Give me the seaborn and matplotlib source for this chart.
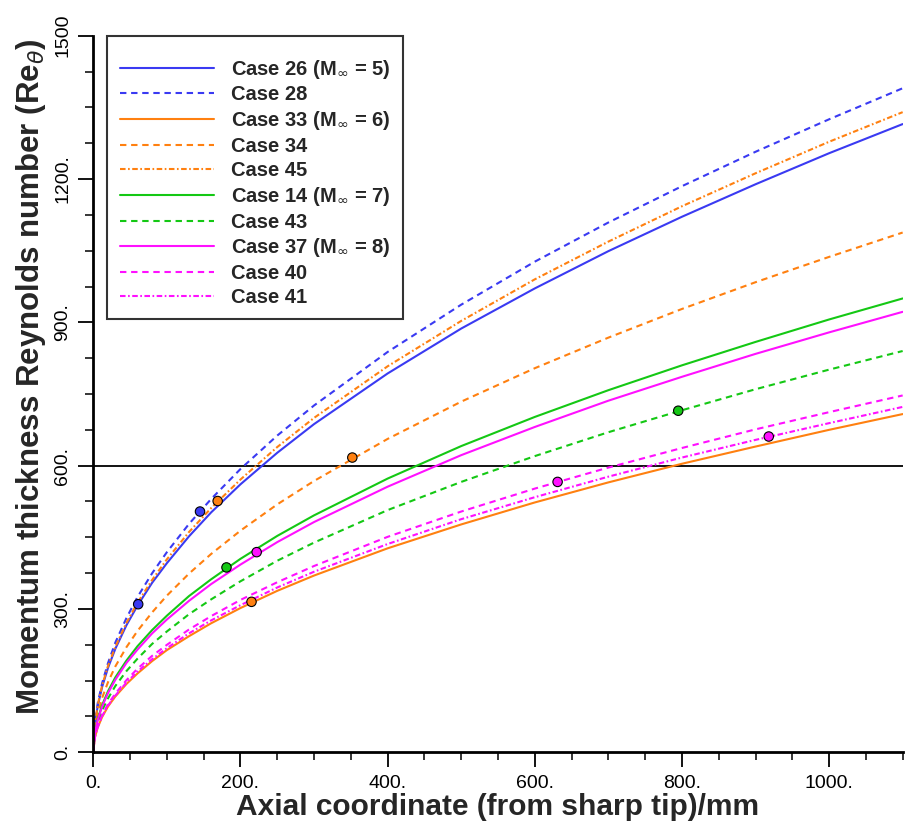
import matplotlib
matplotlib.use("Agg")
import matplotlib.pyplot as plt
import numpy as np
import pandas as pd
import seaborn as sns
from matplotlib.ticker import MultipleLocator, FixedLocator, FixedFormatter

# ---------------- data ----------------
x_mm = [0, 2, 6, 12, 20, 30, 45, 60, 80, 100, 130, 160, 200, 250, 300,
        400, 500, 600, 700, 800, 900, 1000, 1100]

case26 = [0, 56, 97, 137, 177, 217, 266, 307, 355, 396, 452, 502, 561, 627, 687,
          793, 887, 971, 1049, 1121, 1189, 1254, 1315]
case28 = [0, 59, 103, 145, 187, 230, 281, 325, 375, 419, 478, 530, 593, 663, 726,
          838, 937, 1027, 1109, 1185, 1257, 1325, 1390]
case33 = [0, 30, 52, 74, 96, 117, 143, 165, 191, 214, 243, 270, 302, 338, 370,
          427, 477, 523, 565, 604, 640, 675, 708]
case34 = [0, 46, 80, 114, 147, 180, 220, 254, 293, 328, 374, 415, 464, 519, 568,
          656, 734, 804, 868, 928, 984, 1037, 1088]
case45 = [0, 57, 99, 140, 181, 221, 271, 313, 361, 404, 461, 511, 571, 639, 700,
          808, 903, 990, 1069, 1143, 1212, 1278, 1340]
case14 = [0, 41, 70, 99, 128, 157, 192, 222, 256, 286, 327, 362, 405, 453, 496,
          573, 641, 702, 758, 810, 859, 906, 950]
case43 = [0, 36, 62, 88, 113, 139, 170, 196, 227, 253, 289, 320, 358, 401, 439,
          507, 566, 620, 670, 716, 760, 801, 840]
case37 = [0, 39, 68, 96, 124, 152, 187, 215, 249, 278, 317, 352, 393, 440, 482,
          556, 622, 681, 736, 786, 834, 879, 922]
case40 = [0, 32, 55, 78, 101, 123, 151, 175, 202, 225, 257, 285, 319, 356, 390,
          451, 504, 552, 596, 637, 676, 712, 747]
case41 = [0, 31, 53, 76, 98, 119, 146, 169, 195, 218, 249, 276, 308, 345, 378,
          436, 488, 534, 577, 617, 654, 689, 723]

labels = ["Case 26 (M$_{\\infty}$ = 5)", "Case 28", "Case 33 (M$_{\\infty}$ = 6)",
          "Case 34", "Case 45", "Case 14 (M$_{\\infty}$ = 7)", "Case 43",
          "Case 37 (M$_{\\infty}$ = 8)", "Case 40", "Case 41"]
series = [case26, case28, case33, case34, case45, case14, case43, case37, case40, case41]

# marker points (x mm, Re_theta, colour group)
mk_x = [61, 145, 169, 352, 181, 222, 215, 795, 918, 631]
mk_y = [310, 504, 526, 617, 387, 419, 315, 715, 661, 566]
mk_group = ["blue", "blue", "orange", "orange", "green", "magenta", "orange",
            "green", "magenta", "magenta"]

x_ticks = [0, 200, 400, 600, 800, 1000]
x_ticklabels = ["0.", "200.", "400.", "600.", "800.", "1000."]
y_ticks = [0, 300, 600, 900, 1200, 1500]
y_ticklabels = ["0.", "300.", "600.", "900.", "1200.", "1500"]

# ---------------- styles ----------------
BLUE, ORANGE, GREEN, MAG = "#3A3AF2", "#FF8010", "#14C814", "#FF10FF"
group_colors = {"blue": BLUE, "orange": ORANGE, "green": GREEN, "magenta": MAG}
line_colors = [BLUE, BLUE, ORANGE, ORANGE, ORANGE, GREEN, GREEN, MAG, MAG, MAG]
SOLID = ""
DASH = (4.6, 3.4)
DASHDOT = (4.0, 1.8, 1.2, 1.8)
line_dashes = [SOLID, DASH, SOLID, DASH, DASHDOT, SOLID, DASH, SOLID, DASH, DASHDOT]

sns.set_theme(style="white")
plt.rcParams["font.family"] = ["Liberation Sans", "DejaVu Sans"]
plt.rcParams["mathtext.fontset"] = "dejavusans"
plt.rcParams["lines.scale_dashes"] = False

rows = []
for lab, ys in zip(labels, series):
    for xv, yv in zip(x_mm, ys):
        rows.append((lab, xv, yv))
df = pd.DataFrame(rows, columns=["case", "x", "Re"])

fig = plt.figure(figsize=(9.14, 8.36), dpi=100)
ax = fig.add_axes([0.1021, 0.1001, 0.8855, 0.8572])

sns.lineplot(data=df, x="x", y="Re", hue="case", style="case",
             hue_order=labels, style_order=labels,
             palette=dict(zip(labels, line_colors)),
             dashes=dict(zip(labels, line_dashes)),
             sort=False, estimator=None, linewidth=1.5, ax=ax, legend=True)

ax.axhline(600, color="black", linewidth=1.3, zorder=1)

sns.scatterplot(x=mk_x, y=mk_y, hue=mk_group, palette=group_colors,
                s=46, edgecolor="black", linewidth=0.8, zorder=6,
                legend=False, ax=ax)

ax.set_xlim(0, 1100)
ax.set_ylim(0, 1500)
for s in ["top", "right"]:
    ax.spines[s].set_visible(False)
for s in ["left", "bottom"]:
    ax.spines[s].set_color("black")
    ax.spines[s].set_linewidth(2.0)

ax.xaxis.set_major_locator(FixedLocator(x_ticks))
ax.xaxis.set_major_formatter(FixedFormatter(x_ticklabels))
ax.xaxis.set_minor_locator(MultipleLocator(50))
ax.yaxis.set_major_locator(FixedLocator(y_ticks))
ax.yaxis.set_major_formatter(FixedFormatter(y_ticklabels))
ax.yaxis.set_minor_locator(MultipleLocator(75))

ax.tick_params(which="major", direction="out", length=11, width=1.3,
               color="black", labelsize=14, labelcolor="black", pad=5,
               bottom=True, left=True)
ax.tick_params(which="minor", direction="out", length=5.8, width=1.1,
               color="black", bottom=True, left=True)
ax.tick_params(axis="y", which="major", labelrotation=90)
for t in ax.get_yticklabels():
    t.set_verticalalignment("center")

ax.set_xlabel("Axial coordinate (from sharp tip)/mm", fontsize=21.5,
              fontweight="bold", labelpad=1)
ax.set_ylabel("Momentum thickness Reynolds number (Re$_{\\theta}$)", fontsize=22.5,
              fontweight="bold")
ax.yaxis.set_label_coords(-0.056, 0.524)
ax.grid(False)

handles, labs = ax.get_legend_handles_labels()
leg = ax.legend(handles, labs, loc="upper left", bbox_to_anchor=(0.0175, 1.0),
                borderaxespad=0, frameon=True, fancybox=False,
                edgecolor="#333333", framealpha=1,
                prop={"weight": "bold", "size": 14.5},
                handlelength=4.7, handletextpad=0.85, labelspacing=0.24,
                borderpad=0.6, title=" ", title_fontsize=4)
leg.get_frame().set_linewidth(1.5)

fig.savefig("out.png", dpi=100)
